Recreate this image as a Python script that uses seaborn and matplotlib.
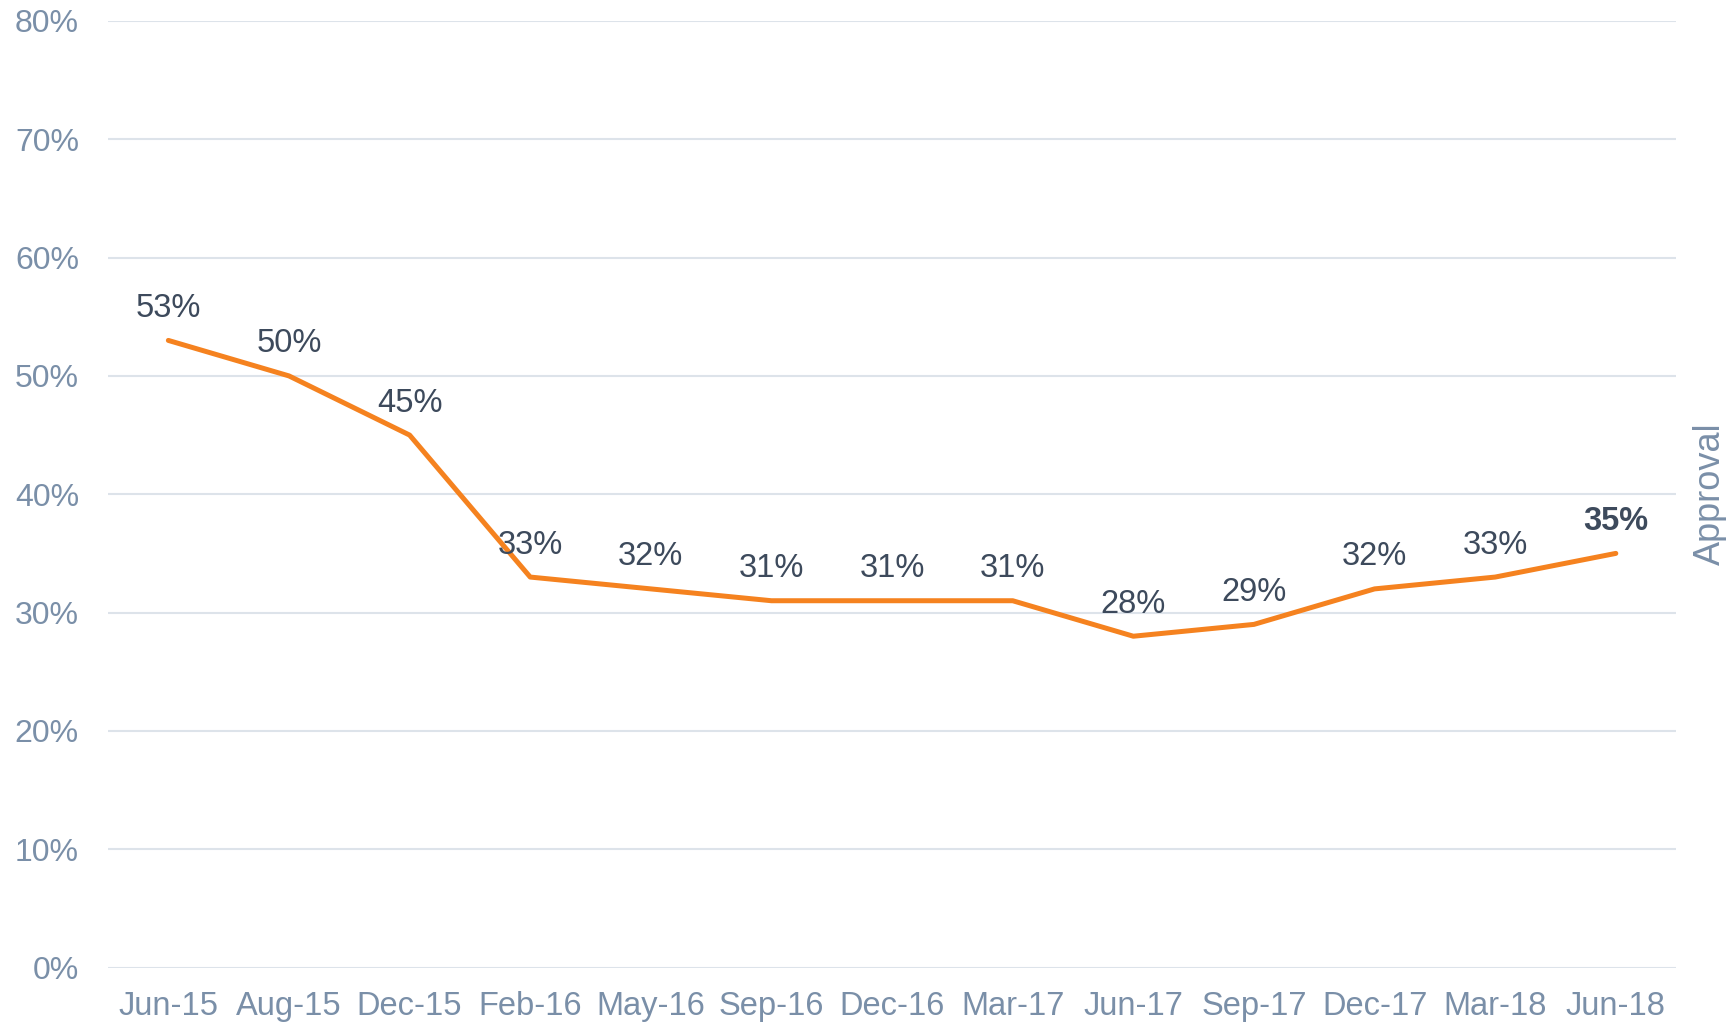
import numpy as np
import pandas as pd
from matplotlib import pyplot as plt
import seaborn as sns

# Approval over time
months = ['Jun-15', 'Aug-15', 'Dec-15', 'Feb-16', 'May-16', 'Sep-16', 'Dec-16',
          'Mar-17', 'Jun-17', 'Sep-17', 'Dec-17', 'Mar-18', 'Jun-18']
approval = [53, 50, 45, 33, 32, 31, 31, 31, 28, 29, 32, 33, 35]
y_ticks = [0, 10, 20, 30, 40, 50, 60, 70, 80]

line_color = '#f5821f'
tick_color = '#7a8fa8'
label_color = '#3d4a5c'
grid_color = '#dde3ea'

sns.set_style('white')
plt.rcParams['font.family'] = ['Liberation Sans', 'DejaVu Sans']

df = pd.DataFrame({'Month': months, 'Approval': approval})

fig = plt.figure(figsize=(17.26, 10.22), dpi=100)
ax = fig.add_axes([0.0626, 0.0533, 0.9085, 0.9262])

sns.lineplot(data=df, x='Month', y='Approval', sort=False, color=line_color,
             linewidth=3.6, ax=ax)

# Data labels above each point
for i, (m, v) in enumerate(zip(months, approval)):
    bold = i == len(months) - 1
    ax.annotate(f'{v}%', (i, v), xytext=(0, 23), textcoords='offset points',
                ha='center', va='center', fontsize=23.5, color=label_color,
                fontweight='bold' if bold else 'normal')

ax.set_xlim(-0.5, len(months) - 0.5)
ax.set_ylim(0, 80)
ax.set_yticks(y_ticks)
ax.set_yticklabels([f'{t}%' for t in y_ticks])
ax.grid(axis='y', color=grid_color, linewidth=1.5)
ax.grid(axis='x', visible=False)
for s in ax.spines.values():
    s.set_visible(False)

ax.tick_params(axis='y', length=0, pad=21, labelsize=23, labelcolor=tick_color)
ax.tick_params(axis='x', length=0, pad=17, labelsize=23.5, labelcolor=tick_color)

ax.set_xlabel('')
ax.set_ylabel('Approval', fontsize=26, color=tick_color, labelpad=12)
ax.yaxis.set_label_position('right')

fig.savefig('out.png', dpi=100)
